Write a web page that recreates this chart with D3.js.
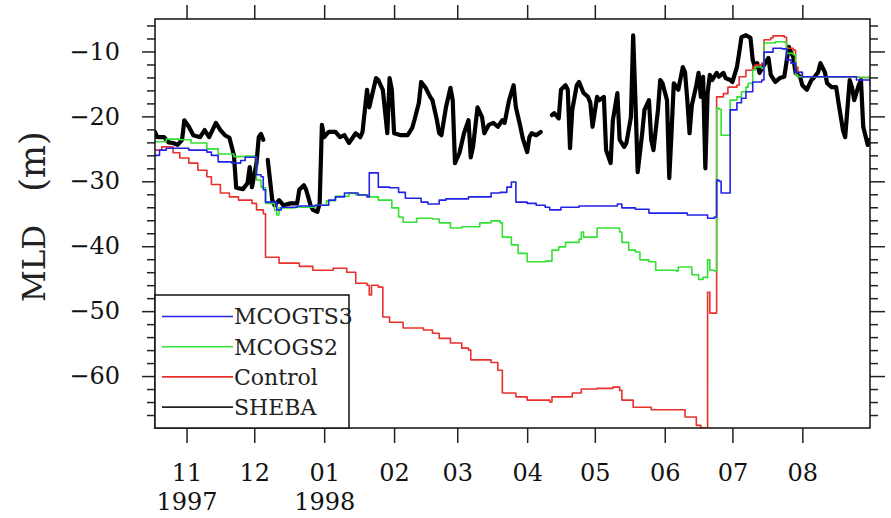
<!DOCTYPE html>
<html>
<head>
<meta charset="utf-8">
<script src="https://cdn.jsdelivr.net/npm/d3@7"></script>
<style>
  html, body { margin: 0; padding: 0; background: #fff; }
  svg { display: block; }
</style>
</head>
<body>
<svg id="chart" width="891" height="518"></svg>
<script>
// Mixed layer depth (m, negative downward), SHEBA year Oct 1997 - Aug 1998
const monthTicks = ["1997-11-01","1997-12-01","1998-01-01","1998-02-01","1998-03-01",
                    "1998-04-01","1998-05-01","1998-06-01","1998-07-01","1998-08-01"];
const yearLabels = { "1997-11-01": "1997", "1998-01-01": "1998" };
const yMajorTicks = [-60, -50, -40, -30, -20, -10];
const yMinorTicks = [-66,-64,-62,-58,-56,-54,-52,-48,-46,-44,-42,-38,-36,-34,-32,
                     -28,-26,-24,-22,-18,-16,-14,-12,-8,-6];
const seriesNames = ["MCOGTS3", "MCOGS2", "Control", "SHEBA"];

const controlData = [
  ["1997-10-18",-25.2],["1997-10-21",-24.7],["1997-10-26",-25.6],["1997-10-29",-26.4],
  ["1997-11-02",-27.2],["1997-11-06",-28.3],["1997-11-10",-29.3],["1997-11-12",-30.5],
  ["1997-11-16",-31.8],["1997-11-20",-32.4],["1997-11-24",-32.9],["1997-11-30",-33.4],
  ["1997-12-02",-34.4],["1997-12-05",-35.0],["1997-12-06",-41.7],["1997-12-12",-42.6],
  ["1997-12-21",-43.1],["1997-12-27",-43.7],["1998-01-05",-43.4],["1998-01-11",-44.0],
  ["1998-01-15",-45.7],["1998-01-20",-46.0],["1998-01-21",-47.5],["1998-01-22",-46.0],
  ["1998-01-25",-46.3],["1998-01-27",-50.9],["1998-01-30",-51.7],["1998-02-05",-52.6],
  ["1998-02-14",-52.9],["1998-02-18",-53.4],["1998-02-21",-54.2],["1998-02-26",-54.9],
  ["1998-03-03",-55.7],["1998-03-06",-56.0],["1998-03-07",-57.5],["1998-03-16",-57.9],
  ["1998-03-19",-59.1],["1998-03-21",-62.6],["1998-03-27",-63.2],["1998-04-01",-63.7],
  ["1998-04-11",-64.0],["1998-04-12",-63.2],["1998-04-21",-62.6],["1998-04-25",-62.0],
  ["1998-05-02",-61.9],["1998-05-09",-61.7],["1998-05-12",-62.2],["1998-05-13",-63.7],
  ["1998-05-18",-64.8],["1998-05-26",-65.2],["1998-06-06",-65.2],["1998-06-10",-66.3],
  ["1998-06-15",-67.6],["1998-06-17",-68.0],["1998-06-19",-68.3],["1998-06-20",-47.1],
  ["1998-06-21",-50.3],["1998-06-23",-50.3],["1998-06-24",-17.0],["1998-06-26",-17.0],
  ["1998-06-27",-16.5],["1998-06-29",-15.5],["1998-07-03",-15.2],["1998-07-04",-13.9],
  ["1998-07-07",-12.9],["1998-07-10",-12.4],["1998-07-11",-12.1],["1998-07-14",-11.8],
  ["1998-07-15",-8.2],["1998-07-18",-7.9],["1998-07-19",-7.6],["1998-07-24",-7.8],
  ["1998-07-25",-9.5],["1998-07-28",-9.8],["1998-07-29",-12.4],["1998-07-30",-13.2],
  ["1998-08-01",-13.9],["1998-08-17",-13.9],["1998-08-26",-14.0],["1998-08-31",-14.2]
];

const mcogs2Data = [
  ["1997-10-18",-23.9],["1997-10-23",-23.5],["1997-10-29",-23.6],["1997-11-03",-24.1],
  ["1997-11-10",-25.0],["1997-11-15",-25.8],["1997-11-22",-26.2],["1997-11-27",-26.1],
  ["1997-12-01",-26.3],["1997-12-02",-29.8],["1997-12-04",-30.9],["1997-12-05",-31.0],
  ["1997-12-06",-33.4],["1997-12-10",-34.5],["1997-12-11",-35.2],["1997-12-12",-34.1],
  ["1997-12-19",-34.0],["1997-12-28",-33.7],["1998-01-02",-33.0],["1998-01-06",-32.3],
  ["1998-01-12",-31.8],["1998-01-15",-32.1],["1998-01-21",-32.4],["1998-01-25",-32.9],
  ["1998-01-31",-34.1],["1998-02-03",-35.5],["1998-02-05",-36.3],["1998-02-11",-35.7],
  ["1998-02-18",-35.8],["1998-02-21",-36.4],["1998-02-26",-37.2],["1998-03-03",-37.0],
  ["1998-03-11",-36.4],["1998-03-16",-36.1],["1998-03-20",-36.4],["1998-03-21",-38.6],
  ["1998-03-25",-39.8],["1998-03-28",-41.1],["1998-04-01",-42.4],["1998-04-09",-42.3],
  ["1998-04-12",-40.6],["1998-04-15",-40.1],["1998-04-18",-39.4],["1998-04-24",-38.9],
  ["1998-04-25",-37.8],["1998-04-26",-38.6],["1998-04-30",-38.6],["1998-05-02",-37.2],
  ["1998-05-09",-37.2],["1998-05-12",-37.8],["1998-05-13",-39.4],["1998-05-16",-40.6],
  ["1998-05-19",-40.9],["1998-05-21",-42.1],["1998-05-25",-42.4],["1998-05-28",-43.7],
  ["1998-06-06",-43.8],["1998-06-07",-43.2],["1998-06-11",-43.2],["1998-06-13",-44.4],
  ["1998-06-16",-45.1],["1998-06-18",-44.8],["1998-06-20",-42.1],["1998-06-21",-43.7],
  ["1998-06-23",-43.8],["1998-06-24",-18.7],["1998-06-25",-18.9],["1998-06-26",-22.9],
  ["1998-06-29",-22.9],["1998-06-30",-17.5],["1998-07-03",-17.0],["1998-07-05",-16.2],
  ["1998-07-07",-15.5],["1998-07-08",-14.9],["1998-07-10",-12.9],["1998-07-11",-12.4],
  ["1998-07-14",-12.6],["1998-07-15",-8.7],["1998-07-20",-8.5],["1998-07-24",-8.6],
  ["1998-07-25",-10.3],["1998-07-28",-10.5],["1998-07-29",-13.6],["1998-07-30",-13.9],
  ["1998-08-26",-14.0],["1998-08-31",-14.4]
];

const mcogts3Data = [
  ["1997-10-18",-26.0],["1997-10-20",-25.2],["1997-10-23",-24.9],["1997-10-29",-24.9],
  ["1997-11-02",-25.2],["1997-11-10",-25.5],["1997-11-12",-26.0],["1997-11-15",-27.0],
  ["1997-11-21",-27.2],["1997-11-25",-26.8],["1997-11-27",-26.3],["1997-12-01",-26.3],
  ["1997-12-02",-29.0],["1997-12-04",-29.3],["1997-12-05",-31.3],["1997-12-06",-33.2],
  ["1997-12-11",-34.4],["1997-12-13",-34.0],["1997-12-20",-33.8],["1997-12-28",-33.7],
  ["1998-01-03",-32.9],["1998-01-06",-32.4],["1998-01-10",-31.8],["1998-01-16",-32.1],
  ["1998-01-20",-32.4],["1998-01-21",-28.7],["1998-01-24",-28.7],["1998-01-25",-30.9],
  ["1998-01-30",-31.0],["1998-02-03",-31.7],["1998-02-06",-32.6],["1998-02-13",-33.2],
  ["1998-02-16",-33.5],["1998-02-21",-32.9],["1998-02-24",-32.7],["1998-03-03",-32.7],
  ["1998-03-06",-32.4],["1998-03-16",-31.8],["1998-03-20",-31.7],["1998-03-23",-30.9],
  ["1998-03-25",-30.1],["1998-03-27",-33.2],["1998-04-01",-33.4],["1998-04-05",-33.7],
  ["1998-04-09",-34.0],["1998-04-11",-34.4],["1998-04-16",-34.0],["1998-04-24",-33.8],
  ["1998-05-11",-33.5],["1998-05-13",-34.1],["1998-05-19",-34.3],["1998-05-25",-34.9],
  ["1998-06-08",-34.9],["1998-06-11",-35.2],["1998-06-20",-35.7],["1998-06-23",-35.5],
  ["1998-06-24",-29.8],["1998-06-25",-30.0],["1998-06-26",-31.8],["1998-06-29",-31.8],
  ["1998-06-30",-19.0],["1998-07-03",-17.9],["1998-07-05",-17.2],["1998-07-07",-16.2],
  ["1998-07-10",-14.7],["1998-07-14",-14.4],["1998-07-15",-10.1],["1998-07-19",-9.5],
  ["1998-07-23",-9.6],["1998-07-25",-11.3],["1998-07-27",-11.8],["1998-07-29",-13.2],
  ["1998-08-01",-13.9],["1998-08-17",-13.9],["1998-08-25",-14.4],["1998-08-31",-15.2]
];

// null marks a break in the observed record
const shebaData = [
  ["1997-10-18",-22.4],["1997-10-19",-23.2],["1997-10-22",-23.2],["1997-10-24",-24.0],
  ["1997-10-26",-24.1],["1997-10-28",-24.4],["1997-10-30",-23.6],["1997-10-31",-20.6],
  ["1997-11-02",-21.6],["1997-11-04",-22.9],["1997-11-07",-23.2],["1997-11-09",-22.1],
  ["1997-11-11",-23.2],["1997-11-14",-21.0],["1997-11-16",-22.1],["1997-11-18",-22.9],
  ["1997-11-20",-23.3],["1997-11-22",-26.0],["1997-11-23",-31.0],["1997-11-26",-31.2],
  ["1997-11-28",-30.3],["1997-11-29",-27.8],["1997-11-30",-30.9],["1997-12-02",-27.2],
  ["1997-12-03",-23.2],["1997-12-04",-22.7],["1997-12-05",-23.6],["1997-12-06",null],
  ["1997-12-07",-26.7],["1997-12-09",-32.9],["1997-12-10",-33.7],["1997-12-12",-32.9],
  ["1997-12-14",-33.7],["1997-12-17",-33.4],["1997-12-20",-33.4],["1997-12-21",-31.3],
  ["1997-12-23",-30.6],["1997-12-24",-31.3],["1997-12-26",-33.7],["1997-12-27",-34.4],
  ["1997-12-29",-34.7],["1997-12-30",-33.4],["1997-12-31",-21.3],["1998-01-01",-23.2],
  ["1998-01-03",-22.4],["1998-01-06",-22.4],["1998-01-08",-23.2],["1998-01-10",-22.9],
  ["1998-01-12",-24.1],["1998-01-15",-22.6],["1998-01-17",-23.2],["1998-01-18",-22.4],
  ["1998-01-20",-15.9],["1998-01-21",-18.6],["1998-01-24",-14.1],["1998-01-25",-14.4],
  ["1998-01-27",-15.9],["1998-01-29",-22.6],["1998-01-30",-14.1],["1998-01-31",-15.9],
  ["1998-02-01",-22.6],["1998-02-04",-22.9],["1998-02-07",-22.9],["1998-02-09",-21.8],
  ["1998-02-10",-20.6],["1998-02-12",-17.9],["1998-02-13",-14.7],["1998-02-15",-15.6],
  ["1998-02-17",-17.0],["1998-02-18",-17.5],["1998-02-20",-20.6],["1998-02-21",-22.6],
  ["1998-02-22",-22.9],["1998-02-24",-18.6],["1998-02-26",-15.6],["1998-02-27",-17.5],
  ["1998-02-28",-27.2],["1998-03-02",-25.6],["1998-03-04",-22.6],["1998-03-06",-20.6],
  ["1998-03-07",-26.3],["1998-03-08",-24.7],["1998-03-10",-18.6],["1998-03-12",-20.1],
  ["1998-03-13",-22.6],["1998-03-15",-21.3],["1998-03-17",-21.0],["1998-03-19",-21.6],
  ["1998-03-21",-20.6],["1998-03-22",-21.0],["1998-03-24",-17.5],["1998-03-26",-15.2],
  ["1998-03-27",-18.6],["1998-03-29",-21.6],["1998-03-30",-23.3],["1998-04-01",-25.5],
  ["1998-04-02",-23.2],["1998-04-03",-22.6],["1998-04-05",-22.9],["1998-04-07",-22.4],
  ["1998-04-09",null],
  ["1998-04-12",-19.8],["1998-04-13",-19.5],["1998-04-15",-20.3],["1998-04-16",-15.9],
  ["1998-04-18",-15.2],["1998-04-19",-15.9],["1998-04-20",-24.9],["1998-04-21",-19.0],
  ["1998-04-23",-15.2],["1998-04-24",-14.7],["1998-04-26",-16.4],["1998-04-28",-17.0],
  ["1998-04-29",-17.9],["1998-04-30",-21.6],["1998-05-02",-17.0],["1998-05-03",-17.5],
  ["1998-05-05",-17.0],["1998-05-06",-25.2],["1998-05-08",-27.2],["1998-05-09",-20.6],
  ["1998-05-11",-16.4],["1998-05-12",-23.6],["1998-05-14",-24.7],["1998-05-15",-24.1],
  ["1998-05-17",-20.1],["1998-05-18",-7.5],["1998-05-19",-17.5],["1998-05-20",-28.6],
  ["1998-05-22",-22.6],["1998-05-23",-19.0],["1998-05-25",-17.5],["1998-05-26",-23.6],
  ["1998-05-27",-25.2],["1998-05-29",-19.0],["1998-05-30",-14.4],["1998-05-31",-14.9],
  ["1998-06-02",-17.5],["1998-06-03",-29.5],["1998-06-04",-22.6],["1998-06-05",-14.9],
  ["1998-06-07",-15.9],["1998-06-09",-12.4],["1998-06-10",-13.2],["1998-06-11",-17.5],
  ["1998-06-12",-22.6],["1998-06-13",-18.3],["1998-06-15",-15.2],["1998-06-16",-13.3],
  ["1998-06-17",-17.0],["1998-06-18",-13.9],["1998-06-19",-28.0],["1998-06-20",-16.4],
  ["1998-06-21",-13.6],["1998-06-22",-14.4],["1998-06-24",-13.3],["1998-06-25",-13.9],
  ["1998-06-27",-13.3],["1998-06-28",-14.1],["1998-06-30",-14.4],["1998-07-01",-14.7],
  ["1998-07-03",-12.4],["1998-07-04",-10.2],["1998-07-05",-7.8],["1998-07-07",-7.5],
  ["1998-07-09",-7.9],["1998-07-10",-11.3],["1998-07-11",-12.4],["1998-07-12",-11.8],
  ["1998-07-13",-13.3],["1998-07-15",-12.1],["1998-07-17",-11.0],["1998-07-18",-13.6],
  ["1998-07-20",-14.7],["1998-07-22",-14.1],["1998-07-24",-13.9],["1998-07-26",-9.3],
  ["1998-07-28",-10.9],["1998-07-29",-13.3],["1998-07-31",-13.9],["1998-08-01",-15.2],
  ["1998-08-03",-15.9],["1998-08-05",-14.4],["1998-08-06",-14.1],["1998-08-08",-13.2],
  ["1998-08-09",-11.8],["1998-08-11",-13.2],["1998-08-12",-14.9],["1998-08-14",-15.5],
  ["1998-08-16",-15.5],["1998-08-17",-17.8],["1998-08-19",-22.1],["1998-08-20",-23.2],
  ["1998-08-22",-14.4],["1998-08-23",-15.5],["1998-08-24",-17.5],["1998-08-26",-15.2],
  ["1998-08-27",-14.4],["1998-08-28",-21.6],["1998-08-30",-24.4],["1998-08-31",-23.6]
];

const FONT = "'DejaVu Serif', serif";
const svg = d3.select("#chart");
const plot = { left: 155, right: 870, top: 19, bottom: 428 };

const x = d3.scaleUtc()
  .domain([d3.isoParse("1997-10-18"), d3.isoParse("1998-08-31")])
  .range([plot.left, plot.right]);
const y = d3.scaleLinear().domain([-68, -5]).range([plot.bottom, plot.top]);

const toPoints = arr => arr.map(([d, v]) => ({ date: d3.isoParse(d), value: v }));
const makeLine = curve => d3.line()
  .defined(d => d.value !== null)
  .curve(curve)
  .x(d => x(d.date))
  .y(d => y(d.value));

svg.append("defs").append("clipPath").attr("id", "plot-clip")
  .append("rect")
  .attr("x", plot.left).attr("y", plot.top)
  .attr("width", plot.right - plot.left).attr("height", plot.bottom - plot.top);

// data lines: daily model output drawn as steps, observations as a polyline
const series = [
  { name: "SHEBA",   data: shebaData,   color: "#000000", width: 4.2, curve: d3.curveLinear },
  { name: "Control", data: controlData, color: "#e8302c", width: 1.6, curve: d3.curveStepAfter },
  { name: "MCOGS2",  data: mcogs2Data,  color: "#35e035", width: 1.6, curve: d3.curveStepAfter },
  { name: "MCOGTS3", data: mcogts3Data, color: "#2222e6", width: 1.6, curve: d3.curveStepAfter }
];
const lines = svg.append("g").attr("clip-path", "url(#plot-clip)");
series.forEach(s => {
  lines.append("path")
    .datum(toPoints(s.data))
    .attr("fill", "none")
    .attr("stroke", s.color)
    .attr("stroke-width", s.width)
    .attr("stroke-linejoin", "round")
    .attr("stroke-linecap", "round")
    .attr("d", makeLine(s.curve));
});

// axes
const tickColor = "#222";
function styleAxis(g) {
  g.select(".domain").remove();
  g.selectAll(".tick line").attr("stroke", tickColor).attr("stroke-width", 1.5);
  g.selectAll(".tick text").attr("font-family", FONT).attr("font-size", 24).attr("fill", "#111");
}
const fmtY = d => "\u2212" + Math.abs(d);

svg.append("g").attr("transform", `translate(${plot.left},0)`)
  .call(d3.axisLeft(y).tickValues(yMajorTicks).tickSize(13).tickPadding(22).tickFormat(fmtY))
  .call(styleAxis);
svg.append("g").attr("transform", `translate(${plot.left},0)`)
  .call(d3.axisLeft(y).tickValues(yMinorTicks).tickSize(8).tickFormat(""))
  .call(styleAxis);
svg.append("g").attr("transform", `translate(${plot.right},0)`)
  .call(d3.axisRight(y).tickValues(yMajorTicks).tickSize(15).tickFormat(""))
  .call(styleAxis);
svg.append("g").attr("transform", `translate(${plot.right},0)`)
  .call(d3.axisRight(y).tickValues(yMinorTicks).tickSize(8).tickFormat(""))
  .call(styleAxis);

const monthDates = monthTicks.map(d3.isoParse);
svg.append("g").attr("transform", `translate(0,${plot.top})`)
  .call(d3.axisTop(x).tickValues(monthDates).tickSize(14).tickFormat(""))
  .call(styleAxis);
const xb = svg.append("g").attr("transform", `translate(0,${plot.bottom})`)
  .call(d3.axisBottom(x).tickValues(monthDates).tickSize(15).tickPadding(21)
        .tickFormat(d3.utcFormat("%m")))
  .call(styleAxis);
xb.selectAll(".tick").each(function(d) {
  const key = d3.utcFormat("%Y-%m-%d")(d);
  if (yearLabels[key]) {
    d3.select(this).append("text")
      .attr("y", 82).attr("text-anchor", "middle")
      .attr("font-family", FONT).attr("font-size", 24).attr("fill", "#111")
      .text(yearLabels[key]);
  }
});

// frame
svg.append("rect")
  .attr("x", plot.left).attr("y", plot.top)
  .attr("width", plot.right - plot.left).attr("height", plot.bottom - plot.top)
  .attr("fill", "none").attr("stroke", "#111").attr("stroke-width", 1.5);

// y-axis title
const yt = svg.append("text")
  .attr("transform", "translate(45,302) rotate(-90)")
  .attr("font-family", FONT).attr("font-size", 31).attr("fill", "#222");
yt.append("tspan").text("MLD");
yt.append("tspan").attr("dx", 33).attr("font-size", 35).text("(m)");

// legend
const legend = svg.append("g");
legend.append("rect")
  .attr("x", plot.left).attr("y", 295)
  .attr("width", 349 - plot.left).attr("height", plot.bottom - 295)
  .attr("fill", "#fff").attr("stroke", "#111").attr("stroke-width", 1.5);
const legendItems = seriesNames.map(n => series.find(s => s.name === n));
legendItems.forEach((s, i) => {
  const ly = 316.5 + i * 30.2;
  legend.append("line")
    .attr("x1", 162).attr("x2", 233).attr("y1", ly).attr("y2", ly)
    .attr("stroke", s.color === "#000000" ? "#222" : s.color).attr("stroke-width", 1.6);
  legend.append("text")
    .attr("x", 234).attr("y", ly).attr("dy", "0.36em")
    .attr("font-family", FONT).attr("font-size", 22).attr("fill", "#222")
    .text(s.name);
});
</script>
</body>
</html>
